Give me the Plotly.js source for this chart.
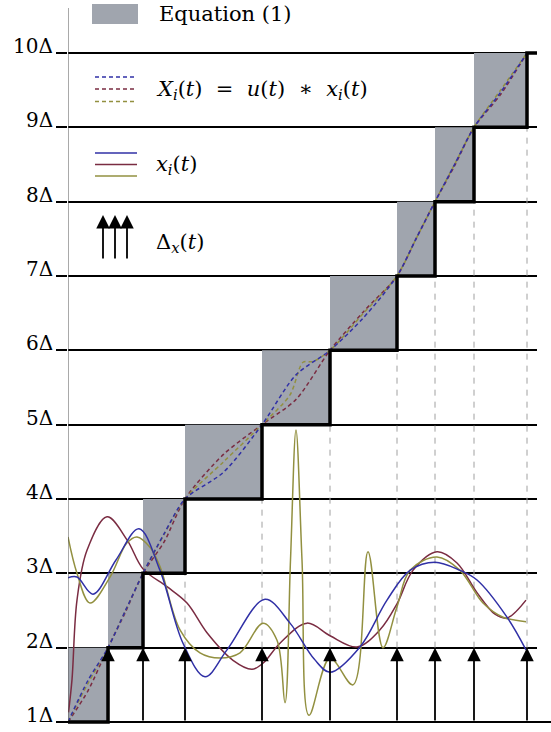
<!DOCTYPE html>
<html><head><meta charset="utf-8">
<script src="https://cdn.plot.ly/plotly-3.0.1.min.js"></script>
<style>body{margin:0;background:#fff}#chart{width:551px;height:732px}</style>
</head><body><div id="chart"></div>
<script>
// sampling instants t_k (t_0 = start of the signal) and quantisation levels (units of Δ)
const sampleTimes = [0, 4.0, 7.5, 11.7, 19.4, 26.2, 32.9, 36.7, 40.6, 45.9];
const levels = [1, 2, 3, 4, 5, 6, 7, 8, 9, 10];
const levelLabels = ['1Δ', '2Δ', '3Δ', '4Δ', '5Δ', '6Δ', '7Δ', '8Δ', '9Δ', '10Δ'];
const tEnd = 46.9;

// x_i(t) : solid curves
const xBlueT = [0, 0.9, 2.5, 4.8, 7.1, 9.2, 11.5, 13.7, 15.9, 19.7, 22.2, 24.6, 26.2, 29.2, 31.9, 34.2, 36.7, 39.2, 40.9, 43.9, 45.8];
const xBlueY = [2.94, 2.95, 2.72, 3.18, 3.60, 3.04, 2.06, 1.61, 1.97, 2.65, 2.33, 1.85, 1.67, 2.01, 2.64, 3.04, 3.15, 3.04, 2.91, 2.41, 1.97];
const xMaroonT = [0.05, 0.4, 0.9, 1.9, 3.9, 5.9, 7.5, 9.9, 11.9, 13.9, 16.5, 18.4, 19.5, 21.2, 23.9, 26.2, 28.9, 31.2, 32.9, 34.5, 36.9, 38.9, 40.9, 42.7, 43.9, 45.8];
const xMaroonY = [1.13, 1.57, 2.64, 3.31, 3.76, 3.45, 3.06, 2.82, 2.60, 2.20, 1.83, 1.71, 1.79, 2.06, 2.33, 2.16, 2.01, 2.24, 2.59, 3.04, 3.29, 3.14, 2.74, 2.45, 2.40, 2.64];
const xOliveT = [0, 0.9, 2.2, 4.2, 5.9, 6.9, 8.2, 9.2, 11.2, 13.2, 15.2, 17.2, 19.5, 20.9, 21.7, 22.25, 22.8, 23.4, 24.1, 26.2, 28.5, 30.0, 31.5, 32.9, 34.2, 36.9, 39.2, 41.5, 43.5, 45.8];
const xOliveY = [3.49, 3.00, 2.60, 2.95, 3.41, 3.49, 3.35, 3.09, 2.24, 1.93, 1.86, 1.93, 2.33, 2.10, 1.26, 3.18, 4.93, 3.18, 1.09, 1.86, 1.50, 3.29, 2.00, 2.55, 3.04, 3.22, 3.04, 2.60, 2.41, 2.35];

// X_i(t) = u(t) * x_i(t) : dashed curves
const XBlueT = [0, 2.0, 4.0, 5.75, 7.5, 9.6, 11.7, 15.55, 19.4, 22.8, 26.2, 29.55, 32.9, 34.8, 36.7, 38.65, 40.6, 43.25, 45.9];
const XBlueY = [1, 1.56, 2, 2.5, 3, 3.53, 4, 4.36, 5, 5.67, 6, 6.44, 7, 7.5, 8, 8.5, 9, 9.47, 10];
const XMaroonT = [0, 2.0, 4.0, 5.75, 7.5, 9.6, 11.7, 15.55, 19.4, 22.8, 26.2, 29.55, 32.9, 34.8, 36.7, 38.65, 40.6, 43.25, 45.9];
const XMaroonY = [1, 1.42, 2, 2.48, 3, 3.42, 4, 4.6, 5, 5.34, 6, 6.52, 7, 7.5, 8, 8.48, 9, 9.44, 10];
const XOliveT = [0, 2.0, 4.0, 5.75, 7.5, 9.6, 11.7, 15.55, 19.4, 22.2, 23.5, 24.5, 26.2, 29.55, 32.9, 34.8, 36.7, 38.65, 40.6, 43.25, 45.9];
const XOliveY = [1, 1.52, 2, 2.5, 3, 3.52, 4, 4.5, 5, 5.40, 5.84, 5.85, 6, 6.5, 7, 7.5, 8, 8.5, 9, 9.5, 10];

const cBlue = '#3030a6', cMaroon = '#7a2c42', cOlive = '#929040';
const boxFill = '#a0a5ae';

const traces = [];
function solid(t, y, c) { traces.push({x: t, y: y, mode: 'lines', line: {color: c, width: 1.5, shape: 'spline', smoothing: 1}, hoverinfo: 'skip'}); }
function dashed(t, y, c) { traces.push({x: t, y: y, mode: 'lines', line: {color: c, width: 1.5, dash: '4px,3px', shape: 'spline', smoothing: 0.8}, hoverinfo: 'skip'}); }
solid(xMaroonT, xMaroonY, cMaroon);
solid(xOliveT, xOliveY, cOlive);
solid(xBlueT, xBlueY, cBlue);
dashed(XMaroonT, XMaroonY, cMaroon);
dashed(XOliveT, XOliveY, cOlive);
dashed(XBlueT, XBlueY, cBlue);
// staircase u(t)
traces.push({x: sampleTimes.concat([tEnd]), y: levels.concat([levels[levels.length - 1]]), mode: 'lines',
  line: {color: '#000', width: 3.5, shape: 'hv'}, hoverinfo: 'skip'});

const shapes = [];
for (let k = 1; k < sampleTimes.length; k++) {
  shapes.push({type: 'rect', xref: 'x', yref: 'y', x0: sampleTimes[k - 1], x1: sampleTimes[k], y0: levels[k - 1], y1: levels[k],
    fillcolor: boxFill, line: {width: 0}, layer: 'between'});
}
for (let k = 3; k < sampleTimes.length; k++) {
  shapes.push({type: 'line', xref: 'x', yref: 'y', x0: sampleTimes[k], x1: sampleTimes[k], y0: levels[1], y1: levels[k - 1],
    line: {color: '#a0a0a0', width: 1, dash: '6px,6px'}, layer: 'between'});
}
const yTop = 10.606, yBot = 0.946;
shapes.push({type: 'line', xref: 'x', yref: 'y', x0: 0, x1: 0, y0: levels[0], y1: yTop, line: {color: '#555', width: 1}});
// bottom line (1Δ) with its tick, running to the right edge
shapes.push({type: 'line', xref: 'paper', yref: 'y', x0: -11 / 469, x1: 1.03, y0: levels[0], y1: levels[0], line: {color: '#000', width: 2}});

// legend built from shapes and annotations (pixel positions -> paper)
const PX = x => (x - 68) / 469, PY = y => (726 - y) / 718;
shapes.push({type: 'rect', xref: 'paper', yref: 'paper', x0: PX(92), x1: PX(138), y0: PY(24), y1: PY(4), fillcolor: boxFill, line: {width: 0}});
[[77, cBlue], [89, cMaroon], [101.5, cOlive]].forEach(([y, c]) =>
  shapes.push({type: 'line', xref: 'paper', yref: 'paper', x0: PX(95), x1: PX(134), y0: PY(y), y1: PY(y), line: {color: c, width: 1.5, dash: '4px,3px'}}));
[[153, cBlue], [164.5, cMaroon], [176, cOlive]].forEach(([y, c]) =>
  shapes.push({type: 'line', xref: 'paper', yref: 'paper', x0: PX(95), x1: PX(137), y0: PY(y), y1: PY(y), line: {color: c, width: 1.5}}));

const font = {family: 'DejaVu Serif, serif', size: 21, color: '#000'};
const annotations = [];
// level labels sit just above their lines
levels.forEach((v, i) => annotations.push({xref: 'paper', yref: 'y', x: PX(55), y: v, xanchor: 'right', yanchor: 'middle', yshift: 7,
  text: levelLabels[i], showarrow: false, font: {family: 'DejaVu Serif, serif', size: 20, color: '#000'}}));
for (let k = 1; k < sampleTimes.length; k++) {
  annotations.push({xref: 'x', yref: 'y', axref: 'x', ayref: 'y', x: sampleTimes[k], y: levels[1], ax: sampleTimes[k], ay: levels[0],
    text: '', showarrow: true, arrowhead: 2, arrowsize: 1.5, arrowwidth: 1.8, arrowcolor: '#000'});
}
[103, 115, 127].forEach(x => annotations.push({xref: 'paper', yref: 'paper', x: PX(x), y: PY(215), ax: 0, ay: 45,
  text: '', showarrow: true, arrowhead: 2, arrowsize: 1.5, arrowwidth: 1.8, arrowcolor: '#000'}));
function label(x, y, text) {
  annotations.push({xref: 'paper', yref: 'paper', x: PX(x), y: PY(y), xanchor: 'left', yanchor: 'middle', text: text, showarrow: false, font: font});
}
label(157, 14, 'Equation (1)');
label(154, 90, '<i>X<sub>i</sub></i>(<i>t</i>)&nbsp; = &nbsp;<i>u</i>(<i>t</i>)&nbsp; ∗ &nbsp;<i>x<sub>i</sub></i>(<i>t</i>)');
label(154, 165, '<i>x<sub>i</sub></i>(<i>t</i>)');
label(154, 243, 'Δ<sub><i>x</i></sub>(<i>t</i>)');

const layout = {
  width: 551, height: 732, margin: {l: 68, r: 14, t: 8, b: 6},
  paper_bgcolor: '#fff', plot_bgcolor: '#fff', showlegend: false,
  font: font,
  xaxis: {range: [0, tEnd], showgrid: false, zeroline: false, showline: false, showticklabels: false, ticks: ''},
  yaxis: {range: [yBot, yTop], tickvals: levels, showticklabels: false, showgrid: true, gridcolor: '#000', gridwidth: 2,
    zeroline: false, showline: false, ticks: 'outside', ticklen: 11, tickwidth: 2, tickcolor: '#000'},
  shapes: shapes, annotations: annotations
};
Plotly.newPlot('chart', traces, layout, {staticPlot: true, displayModeBar: false});
</script></body></html>
